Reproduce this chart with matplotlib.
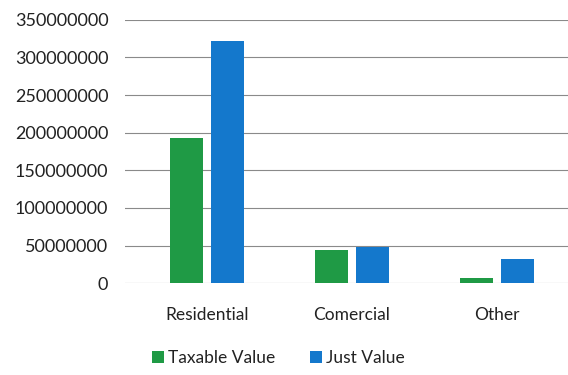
import matplotlib
matplotlib.use("Agg")
import matplotlib.pyplot as plt
import numpy as np

categories = ["Residential", "Comercial", "Other"]
taxable_value = [193000000, 44000000, 7000000]
just_value = [322000000, 48000000, 32000000]
yticks = [0, 50000000, 100000000, 150000000, 200000000, 250000000, 300000000, 350000000]

plt.rcParams['font.family'] = ['Lato', 'DejaVu Sans']

fig = plt.figure(figsize=(5.68, 3.75), dpi=100)
ax = fig.add_axes([125 / 568, 0.245, 443 / 568, 0.702])

x = np.arange(len(categories))
w = 0.23
gap = 0.055
ax.bar(x - (w + gap) / 2, taxable_value, width=w, color='#1f9a45', label='Taxable Value', zorder=3)
ax.bar(x + (w + gap) / 2, just_value, width=w, color='#1478cc', label='Just Value', zorder=3)

ax.set_xlim(-0.566, 2.49)
ax.set_ylim(0, 350000000)
ax.set_yticks(yticks)
ax.set_yticklabels([str(v) for v in yticks], fontsize=13, color='#222222')
ax.set_xticks(x)
ax.set_xticklabels(categories, fontsize=12.5, color='#222222')
ax.tick_params(axis='both', length=0)
ax.tick_params(axis='y', pad=12)
ax.tick_params(axis='x', pad=17)
ax.yaxis.grid(True, color='#8a8a8a', linewidth=0.8, zorder=0)
for s in ax.spines.values():
    s.set_visible(False)

fig.legend(loc='center', bbox_to_anchor=(0.49, 0.045), ncol=2, frameon=False,
           fontsize=12.5, handlelength=0.7, handleheight=0.7, handletextpad=0.2,
           columnspacing=2.0, labelcolor='#222222')

fig.savefig("out.png", dpi=100)
